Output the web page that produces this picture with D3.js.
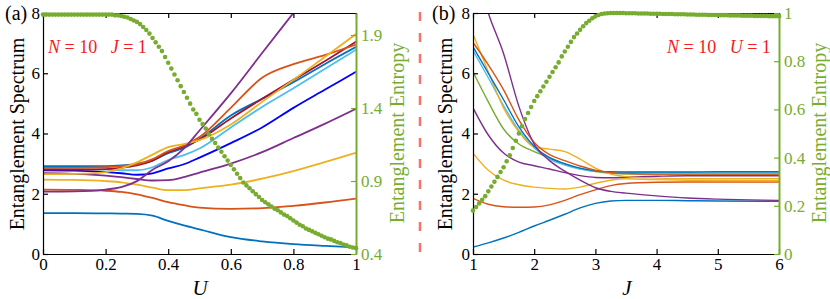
<!DOCTYPE html>
<html>
<head>
<meta charset="utf-8">
<script src="https://cdn.jsdelivr.net/npm/d3@7"></script>
<style>
  body { margin: 0; background: #fff; }
</style>
</head>
<body>
<svg id="chart" width="830" height="299"></svg>
<script>
//Panel (a): spectrum against U
var uVals = [0, 0.1, 0.2, 0.25, 0.3, 0.35, 0.4, 0.45, 0.5, 0.6, 0.7, 0.8, 0.9, 1];
var aBlueLow    = [1.36,1.36,1.35,1.34,1.33,1.27,1.1,0.95,0.82,0.56,0.42,0.33,0.27,0.22];
var aOrangeLow  = [2.14,2.13,2.1,2.06,1.98,1.86,1.72,1.62,1.54,1.5,1.52,1.6,1.71,1.84];
var aYellowLow  = [2.47,2.46,2.42,2.38,2.3,2.2,2.12,2.12,2.18,2.3,2.5,2.75,3.05,3.36];
var aPurpleMid  = [2.68,2.66,2.6,2.55,2.49,2.44,2.45,2.55,2.7,3.0,3.38,3.85,4.32,4.82];
var aPurpleUp   = [2.07,2.08,2.14,2.22,2.42,2.8,3.08,3.5,4.1,5.33,6.67,8.0,9.33,10.67];
var aDeepBlue   = [2.78,2.77,2.72,2.68,2.63,2.68,2.84,2.98,3.2,3.68,4.2,4.85,5.45,6.05];
var aLightBlue  = [2.83,2.82,2.8,2.78,2.78,2.88,3.12,3.28,3.5,4.2,4.88,5.5,6.14,6.78];
var aBlueHigh   = [2.92,2.92,2.92,2.94,2.99,3.1,3.35,3.52,3.82,4.6,5.15,5.7,6.3,6.87];
var aDarkRed    = [2.8,2.8,2.82,2.86,2.94,3.1,3.38,3.56,3.8,4.5,5.15,5.78,6.4,7.05];
var aOrangeHigh = [2.86,2.86,2.88,2.92,2.98,3.15,3.42,3.6,3.88,4.85,5.85,6.3,6.6,6.95];
var aYellowHigh = [2.65,2.66,2.72,2.84,3.04,3.3,3.55,3.65,3.78,4.3,5.05,5.78,6.54,7.3];

//Entropy dots of panel (a), U = 0, 0.01, ..., 1
var aEntropy = [2.04,2.04,2.04,2.04,2.04,2.04,2.04,2.04,2.04,2.04,
  2.04,2.04,2.04,2.04,2.04,2.04,2.04,2.04,2.04,2.04,
  2.04,2.04,2.04,2.035,2.035,2.03,2.025,2.02,2.01,2.0,
  1.99,1.975,1.955,1.935,1.91,1.88,1.85,1.82,1.79,1.75,
  1.71,1.67,1.63,1.59,1.55,1.51,1.47,1.43,1.39,1.36,
  1.32,1.29,1.26,1.22,1.19,1.16,1.13,1.10,1.07,1.04,
  1.01,0.98,0.95,0.92,0.89,0.87,0.85,0.83,0.81,0.79,
  0.77,0.755,0.74,0.725,0.71,0.70,0.685,0.67,0.66,0.645,
  0.63,0.615,0.60,0.59,0.575,0.565,0.555,0.545,0.535,0.525,
  0.515,0.505,0.50,0.49,0.48,0.475,0.465,0.46,0.45,0.445,
  0.44];

//Panel (b): spectrum against J
var jVals = [1, 1.25, 1.5, 1.75, 2, 2.25, 2.5, 2.75, 3, 3.25, 3.5, 4, 4.5, 5, 6];
var bBlueLow    = [0.23,0.37,0.53,0.72,0.93,1.12,1.32,1.53,1.68,1.76,1.78,1.78,1.77,1.76,1.75];
var bOrangeLow  = [1.85,1.65,1.57,1.55,1.56,1.63,1.78,1.97,2.13,2.27,2.34,2.38,2.39,2.39,2.39];
var bYellowLow  = [3.35,2.78,2.45,2.3,2.22,2.18,2.16,2.22,2.35,2.45,2.5,2.47,2.45,2.44,2.43];
var bPurpleMid  = [4.85,3.95,3.35,3.05,2.93,2.82,2.7,2.6,2.54,2.53,2.55,2.58,2.6,2.6,2.6];
var bPurpleUp   = [9.8,8.0,6.65,4.9,3.65,3.1,2.75,2.45,2.2,2.08,2.02,1.93,1.86,1.82,1.78];
var bGreen      = [6.05,5.05,4.15,3.65,3.4,3.2,2.98,2.83,2.74,2.68,2.66,2.65,2.65,2.65,2.65];
var bYellowHigh = [7.3,6.05,4.85,4.05,3.55,3.48,3.4,3.15,2.85,2.65,2.57,2.52,2.5,2.5,2.5];
var bOrangeHigh = [7.02,6.28,5.45,4.45,3.7,3.3,3.1,2.92,2.78,2.7,2.67,2.65,2.65,2.65,2.65];
var bBlueHigh   = [6.88,6.0,5.12,4.22,3.58,3.2,3.0,2.85,2.76,2.73,2.72,2.72,2.72,2.73,2.73];
var bLightBlue  = [6.75,5.85,4.92,4.1,3.52,3.15,2.95,2.82,2.75,2.72,2.71,2.71,2.71,2.72,2.72];

//Entropy dots of panel (b), J = 1, 1.05, ..., 6
var bEntropy = [0.18,0.195,0.21,0.225,0.24,0.26,0.28,0.30,0.32,0.34,
  0.36,0.385,0.41,0.44,0.47,0.50,0.53,0.56,0.585,0.61,
  0.635,0.655,0.675,0.695,0.715,0.735,0.755,0.775,0.795,0.82,
  0.84,0.86,0.88,0.90,0.915,0.93,0.945,0.958,0.968,0.978,
  0.986,0.992,0.996,0.998,0.999,1.0,1.0,1.0,1.0,1.0,
  0.999,0.999,0.999,0.999,0.998,0.998,0.998,0.998,0.997,0.997,
  0.997,0.997,0.996,0.996,0.996,0.996,0.995,0.995,0.995,0.995,
  0.994,0.994,0.994,0.993,0.993,0.993,0.993,0.992,0.992,0.992,
  0.992,0.991,0.991,0.991,0.990,0.990,0.990,0.990,0.989,0.989,
  0.989,0.989,0.988,0.988,0.988,0.988,0.988,0.987,0.987,0.987,
  0.987];

//Tick values
var aXTicks = [0, 0.2, 0.4, 0.6, 0.8, 1];
var bXTicks = [1, 2, 3, 4, 5, 6];
var specTicks = [0, 2, 4, 6, 8];
var aEntTicks = [0.4, 0.9, 1.4, 1.9];
var bEntTicks = [0, 0.2, 0.4, 0.6, 0.8, 1];

//MATLAB colours
var cBlue = "#0072BD", cOrange = "#D95319", cYellow = "#EDB120", cPurple = "#7E2F8E",
    cGreen = "#77AC30", cLight = "#4DBEEE", cRed = "#A2142F", cDeep = "#0000FF";
var serif = "Liberation Serif";

var svg = d3.select("#chart");

function drawPanel(p){
    var x = d3.scaleLinear().domain(p.xDomain).range([p.left, p.right]);
    var y = d3.scaleLinear().domain([0, 8]).range([254, 13]);
    var y2 = d3.scaleLinear().domain(p.entDomain).range([254, 13]);

    var g = svg.append("g");

    //Clip the spectrum lines to the box
    g.append("clipPath").attr("id", "clip" + p.id)
        .append("rect")
        .attr("x", p.left).attr("y", 13)
        .attr("width", p.right - p.left).attr("height", 241);

    var line = d3.line().curve(d3.curveMonotoneX);
    var lines = g.append("g").attr("clip-path", "url(#clip" + p.id + ")");
    p.curves.forEach(function(c){
        var pts = c.vals.map(function(v, i){ return [x(p.xVals[i]), y(v)]; });
        lines.append("path")
            .attr("d", line(pts))
            .attr("fill", "none")
            .attr("stroke", c.color)
            .attr("stroke-width", p.lineWidth);
    });

    //Axes with ticks pointing inwards
    var fmt = function(d){ return String(d); };
    g.append("g").attr("transform", "translate(0,254)")
        .call(d3.axisBottom(x).tickValues(p.xTicks).tickSizeInner(-5).tickSizeOuter(0).tickPadding(4).tickFormat(fmt));
    g.append("g").attr("transform", "translate(0,13)")
        .call(d3.axisTop(x).tickValues(p.xTicks).tickSizeInner(-5).tickSizeOuter(0).tickFormat(""));
    g.append("g").attr("transform", "translate(" + p.left + ",0)")
        .call(d3.axisLeft(y).tickValues(specTicks).tickSizeInner(-5).tickSizeOuter(0).tickPadding(3));
    var ax2 = g.append("g").attr("transform", "translate(" + p.right + ",0)")
        .call(d3.axisRight(y2).tickValues(p.entTicks).tickSizeInner(-5).tickSizeOuter(0).tickPadding(5).tickFormat(fmt));

    g.selectAll("g").attr("font-family", serif);
    g.selectAll(".tick text").attr("font-size", 17).attr("font-family", serif).attr("fill", "#000");
    g.selectAll(".domain, .tick line").attr("stroke", "#000").attr("stroke-width", 1.2);
    ax2.selectAll(".domain").attr("stroke", cGreen).attr("stroke-width", 2);
    ax2.selectAll(".tick line").attr("stroke", cGreen).attr("stroke-width", 1.2);
    ax2.selectAll(".tick text").attr("fill", cGreen);

    //Entropy dots
    g.append("g").selectAll("circle")
        .data(p.ent)
        .join("circle")
        .attr("cx", function(d, i){ return x(p.entStart + i * p.entStep); })
        .attr("cy", function(d){ return y2(d); })
        .attr("r", 2.3)
        .attr("fill", cGreen);

    //Axis titles
    g.append("text")
        .attr("transform", "translate(" + p.leftTitleX + ",134) rotate(-90)")
        .attr("text-anchor", "middle").attr("dy", "0.35em")
        .attr("font-family", serif).attr("font-size", 20).attr("fill", "#000")
        .text("Entanglement Spectrum");
    g.append("text")
        .attr("transform", "translate(" + p.rightTitleX + ",133) rotate(-90)")
        .attr("text-anchor", "middle").attr("dy", "0.35em")
        .attr("font-family", serif).attr("font-size", 20).attr("fill", cGreen)
        .text("Entanglement Entropy");
    g.append("text")
        .attr("x", p.xTitleX).attr("y", 295)
        .attr("text-anchor", "middle").attr("font-family", serif)
        .attr("font-size", 21).attr("font-style", "italic")
        .text(p.xName);

    //Panel letter
    g.append("text").attr("x", p.letterX).attr("y", 20)
        .attr("font-family", serif).attr("font-size", 20).text(p.letter);

    //Red parameter note
    var note = g.append("text").attr("x", p.noteX).attr("y", 53)
        .attr("font-family", serif).attr("font-size", 18).attr("fill", "#f21d1d")
        .attr("xml:space", "preserve");
    note.append("tspan").attr("font-style", "italic").text("N");
    note.append("tspan").text(" = 10   ");
    note.append("tspan").attr("font-style", "italic").text(p.noteVar);
    note.append("tspan").text(" = 1");
}

drawPanel({
    id: "a", left: 43, right: 356, xDomain: [0, 1], xVals: uVals, xTicks: aXTicks,
    entDomain: [0.4, 2.051], entTicks: aEntTicks, ent: aEntropy, entStart: 0, entStep: 0.01,
    lineWidth: 1.8,
    curves: [
        {vals: aBlueLow, color: cBlue}, {vals: aOrangeLow, color: cOrange},
        {vals: aYellowLow, color: cYellow}, {vals: aPurpleMid, color: cPurple},
        {vals: aDeepBlue, color: cDeep}, {vals: aLightBlue, color: cLight},
        {vals: aBlueHigh, color: cBlue}, {vals: aDarkRed, color: cRed},
        {vals: aOrangeHigh, color: cOrange}, {vals: aYellowHigh, color: cYellow},
        {vals: aPurpleUp, color: cPurple}
    ],
    leftTitleX: 17, rightTitleX: 397, xTitleX: 200, xName: "U",
    letter: "(a)", letterX: 5, noteX: 48, noteVar: "J"
});

drawPanel({
    id: "b", left: 473, right: 779, xDomain: [1, 6], xVals: jVals, xTicks: bXTicks,
    entDomain: [0, 1], entTicks: bEntTicks, ent: bEntropy, entStart: 1, entStep: 0.05,
    lineWidth: 1.4,
    curves: [
        {vals: bBlueLow, color: cBlue}, {vals: bOrangeLow, color: cOrange},
        {vals: bYellowLow, color: cYellow}, {vals: bPurpleMid, color: cPurple},
        {vals: bGreen, color: cGreen}, {vals: bLightBlue, color: cLight},
        {vals: bYellowHigh, color: cYellow}, {vals: bBlueHigh, color: cBlue},
        {vals: bOrangeHigh, color: cOrange}, {vals: bPurpleUp, color: cPurple}
    ],
    leftTitleX: 445, rightTitleX: 819, xTitleX: 627, xName: "J",
    letter: "(b)", letterX: 432, noteX: 667, noteVar: "U"
});

//Dashed divider between the panels
svg.append("line")
    .attr("x1", 420).attr("x2", 420).attr("y1", 12).attr("y2", 255)
    .attr("stroke", "#f4736a").attr("stroke-width", 2.5)
    .attr("stroke-dasharray", "9,12");
</script>
</body>
</html>
